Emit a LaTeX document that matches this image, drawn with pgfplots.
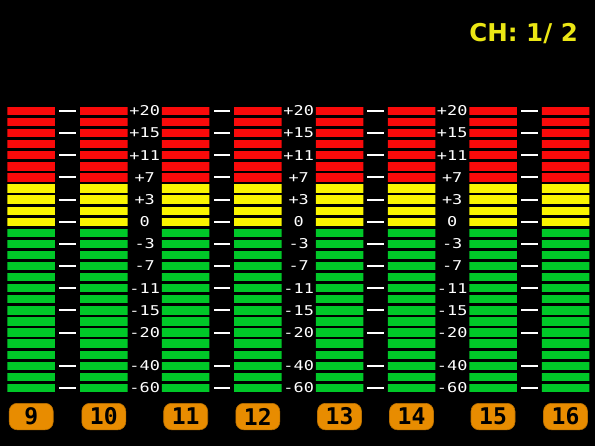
\documentclass[border=0pt]{standalone}
\usepackage{pgfplots}
\pgfplotsset{compat=1.18}
\usepackage{pgfplotstable}
\usepackage{graphicx}
\usepackage{fontspec}
\setmainfont{DejaVu Sans}
\newfontfamily\monofont{DejaVu Sans Mono}
\definecolor{segred}{RGB}{250,10,10}
\definecolor{segyellow}{RGB}{250,245,0}
\definecolor{seggreen}{RGB}{0,200,40}
\definecolor{chorange}{RGB}{232,140,0}
\definecolor{chyellow}{RGB}{235,230,20}

% segments lit per channel in each colour zone
\pgfplotstableread{
x     green yellow red
31.2  15    4      7
103.8 15    4      7
185.7 15    4      7
257.8 15    4      7
339.5 15    4      7
411.5 15    4      7
493.0 15    4      7
565.5 15    4      7
}\meters

% scale labels (row centres, in segment units)
\pgfplotstableread{
y    label
25.5 +20
23.5 +15
21.5 +11
19.5 +7
17.5 +3
15.5 0
13.5 -3
11.5 -7
9.5  -11
7.5  -15
5.5  -20
2.5  -40
0.5  -60
}\scale

\pgfplotsset{
  vu/.style={
    width=595pt, height=446pt, scale only axis,
    xmin=0, xmax=595, ymin=-4.738, ymax=35.512,
    axis line style={draw=none},
    xtick=\empty, major tick length=0pt,
  }
}

\begin{document}
\begin{tikzpicture}
\begin{axis}[vu,
  axis background/.style={fill=black},
  ybar stacked, bar width=47.5,
  ytick={0,...,26}, yticklabel=\empty,
  ymajorgrids, major grid style={black, line width=2.75pt},
  axis on top,
]
\addplot[fill=seggreen, draw=none] table[x=x, y=green] {\meters};
\addplot[fill=segyellow, draw=none] table[x=x, y=yellow] {\meters};
\addplot[fill=segred, draw=none] table[x=x, y=red] {\meters};
\end{axis}

\begin{axis}[vu, ytick=\empty, clip=false]
\coordinate (ll) at (rel axis cs:0,0);
\coordinate (ur) at (rel axis cs:1,1);
% dashes in the narrow gaps
\foreach \gx in {67.5,221.8,375.6,529.2}{
  \addplot[only marks, mark=-, mark size=8.3pt,
    mark options={white, line width=2pt}] table[x expr=\gx, y=y] {\scale};
}
% numeric scale in the wide gaps
\foreach \gx in {144.7,298.7,452.2}{
  \addplot[draw=none, mark=none, nodes near coords={\scalebox{1.25}[1]{\pgfplotspointmeta}},
    point meta=explicit symbolic, nodes near coords align=center,
    every node near coord/.style={text=white, font=\monofont\fontsize{13.5}{13.5}\selectfont, inner sep=0pt}]
    table[x expr=\gx, y=y, meta=label] {\scale};
}
% channel numbers
\addplot[draw=none, mark=none, nodes near coords,
  point meta=explicit symbolic, nodes near coords align=center,
  every node near coord/.style={fill=chorange, draw=chorange!80!black, line width=0.6pt,
    rounded corners=8pt, minimum width=44pt, minimum height=26.5pt, inner sep=0pt,
    text=black, font=\monofont\bfseries\fontsize{23}{23}\selectfont}]
  coordinates {(31.2,-2.08)[9] (103.8,-2.08)[10] (185.7,-2.08)[11] (257.8,-2.08)[12]
               (339.5,-2.08)[13] (411.5,-2.08)[14] (493.0,-2.08)[15] (565.5,-2.08)[16]};
\node[anchor=east, text=chyellow, font=\bfseries\fontsize{24.5}{24.5}\selectfont, inner sep=0pt]
  at (axis cs:578,32.45) {CH: 1/ 2};
\end{axis}
\pgfresetboundingbox
\useasboundingbox (ll) rectangle (ur);
\end{tikzpicture}
\end{document}
